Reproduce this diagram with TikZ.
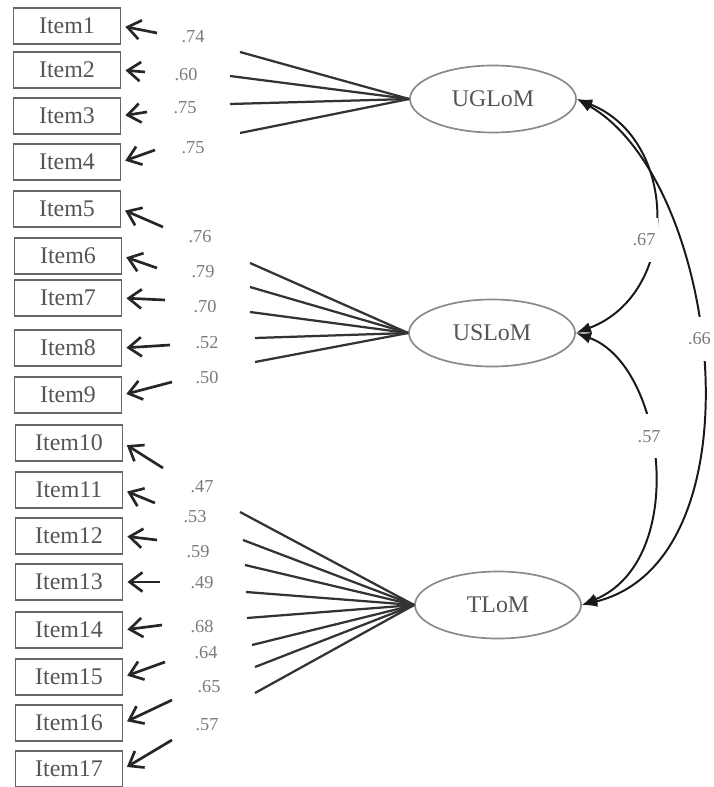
\documentclass[tikz,border=0pt]{standalone}
\usepackage{fontspec}
\setmainfont{Liberation Serif}
\usetikzlibrary{arrows.meta,shapes.geometric}

\definecolor{boxgray}{HTML}{666666}
\definecolor{txtgray}{HTML}{555555}
\definecolor{labgray}{HTML}{7A7A7A}
\definecolor{ellgray}{HTML}{8A8A8A}

\tikzset{
  item/.style={draw=boxgray, line width=1.3pt, minimum width=2.675cm, minimum height=0.9cm,
    inner sep=0pt, text=txtgray, font=\fontsize{17}{19}\selectfont},
  latent/.style={ellipse, draw=ellgray, line width=1.2pt, minimum width=4.15cm,
    minimum height=1.675cm, inner sep=0pt, text=txtgray, font=\fontsize{17}{19}\selectfont},
  lab/.style={text=labgray, font=\fontsize{13}{15}\selectfont, inner sep=1pt},
  err/.style={-{Straight Barb[length=0.32cm,width=0.48cm]}, line width=1.9pt, draw=black!85,
    shorten >=0.1cm},
  load/.style={line width=1.6pt, draw=black!80},
  cov/.style={{Latex[length=0.38cm,width=0.28cm]}-{Latex[length=0.38cm,width=0.28cm]},
    line width=1.4pt, draw=black!90},
  covlab/.style={fill=white, text=labgray, font=\fontsize{13}{15}\selectfont,
    minimum height=1.1cm, inner xsep=2pt}
}

\begin{document}
\begin{tikzpicture}[x=0.025cm,y=-0.025cm]
    \fill[white] (0,0) rectangle (713,787);
    \useasboundingbox (0,0) rectangle (713,787);
    % items
    \node[item] (i1) at (67,26) {Item1};
    \node[item] (i2) at (67,70) {Item2};
    \node[item] (i3) at (67,116) {Item3};
    \node[item] (i4) at (67,162) {Item4};
    \node[item] (i5) at (67,209) {Item5};
    \node[item] (i6) at (68,256) {Item6};
    \node[item] (i7) at (68,298) {Item7};
    \node[item] (i8) at (68,348) {Item8};
    \node[item] (i9) at (68,395) {Item9};
    \node[item] (i10) at (69,443) {Item10};
    \node[item] (i11) at (69,490) {Item11};
    \node[item] (i12) at (69,536) {Item12};
    \node[item] (i13) at (69,582) {Item13};
    \node[item] (i14) at (69,630) {Item14};
    \node[item] (i15) at (69,677) {Item15};
    \node[item] (i16) at (69,723) {Item16};
    \node[item] (i17) at (69,769) {Item17};
    % short arrows into the items
    \coordinate (t1) at (157,33);  \draw[err] (t1) -- (i1.east);
    \coordinate (t2) at (145,72);  \draw[err] (t2) -- (i2.east);
    \coordinate (t3) at (147,112); \draw[err] (t3) -- (i3.east);
    \coordinate (t4) at (155,150); \draw[err] (t4) -- (i4.east);
    \coordinate (t5) at (163,227); \draw[err] (t5) -- (i5.east);
    \coordinate (t6) at (157,268); \draw[err] (t6) -- (i6.east);
    \coordinate (t7) at (165,300); \draw[err] (t7) -- (i7.east);
    \coordinate (t8) at (170,345); \draw[err] (t8) -- (i8.east);
    \coordinate (t9) at (172,382); \draw[err] (t9) -- (i9.east);
    \coordinate (t10) at (163,468); \draw[err] (t10) -- (i10.east);
    \coordinate (t11) at (155,503); \draw[err] (t11) -- (i11.east);
    \coordinate (t12) at (157,540); \draw[err] (t12) -- (i12.east);
    \coordinate (t13) at (160,582); \draw[err] (t13) -- (i13.east);
    \coordinate (t14) at (162,625); \draw[err] (t14) -- (i14.east);
    \coordinate (t15) at (165,662); \draw[err] (t15) -- (i15.east);
    \coordinate (t16) at (172,700); \draw[err] (t16) -- (i16.east);
    \coordinate (t17) at (172,740); \draw[err] (t17) -- (i17.east);
    % loadings
    \node[lab] (l1) at (193,37) {.74};
    \node[lab] (l2) at (186,75) {.60};
    \node[lab] (l3) at (185,108) {.75};
    \node[lab] (l4) at (193,148) {.75};
    \node[lab] (l5) at (200,237) {.76};
    \node[lab] (l6) at (203,272) {.79};
    \node[lab] (l7) at (205,307) {.70};
    \node[lab] (l8) at (207,343) {.52};
    \node[lab] (l9) at (207,378) {.50};
    \node[lab] (l10) at (202,487) {.47};
    \node[lab] (l11) at (195,517) {.53};
    \node[lab] (l12) at (198,552) {.59};
    \node[lab] (l13) at (202,583) {.49};
    \node[lab] (l14) at (202,627) {.68};
    \node[lab] (l15) at (206,653) {.64};
    \node[lab] (l16) at (209,687) {.65};
    \node[lab] (l17) at (207,725) {.57};
    % factors
    \node[latent] (ug) at (493,99) {UGLoM};
    \node[latent] (us) at (492,333) {USLoM};
    \node[latent] (tl) at (498,605) {TLoM};
    % fans
    \coordinate (u1) at (240,52);  \draw[load] (ug.west) -- (u1);
    \coordinate (u2) at (230,76);  \draw[load] (ug.west) -- (u2);
    \coordinate (u3) at (230,104); \draw[load] (ug.west) -- (u3);
    \coordinate (u4) at (240,133); \draw[load] (ug.west) -- (u4);
    \coordinate (s1) at (250,263); \draw[load] (us.west) -- (s1);
    \coordinate (s2) at (250,287); \draw[load] (us.west) -- (s2);
    \coordinate (s3) at (250,312); \draw[load] (us.west) -- (s3);
    \coordinate (s4) at (255,338); \draw[load] (us.west) -- (s4);
    \coordinate (s5) at (255,362); \draw[load] (us.west) -- (s5);
    \coordinate (m1) at (240,512); \draw[load] (tl.west) -- (m1);
    \coordinate (m2) at (243,540); \draw[load] (tl.west) -- (m2);
    \coordinate (m3) at (245,565); \draw[load] (tl.west) -- (m3);
    \coordinate (m4) at (246,592); \draw[load] (tl.west) -- (m4);
    \coordinate (m5) at (247,618); \draw[load] (tl.west) -- (m5);
    \coordinate (m6) at (252,645); \draw[load] (tl.west) -- (m6);
    \coordinate (m7) at (255,667); \draw[load] (tl.west) -- (m7);
    \coordinate (m8) at (255,693); \draw[load] (tl.west) -- (m8);
    % correlations
    \draw[cov] (ug.east) .. controls (680,140) and (680,294) ..
        node[covlab, pos=0.58, xshift=-0.2cm] (c1) {.67} (us.east);
    \draw[cov] (us.east) .. controls (665,365) and (690,560) ..
        node[covlab, pos=0.42] (c2) {.57} (tl.east);
    \draw[cov] (ug.east) .. controls (720,180) and (765,560) ..
        node[covlab, pos=0.46] (c3) {.66} (tl.east);
\end{tikzpicture}
\end{document}
